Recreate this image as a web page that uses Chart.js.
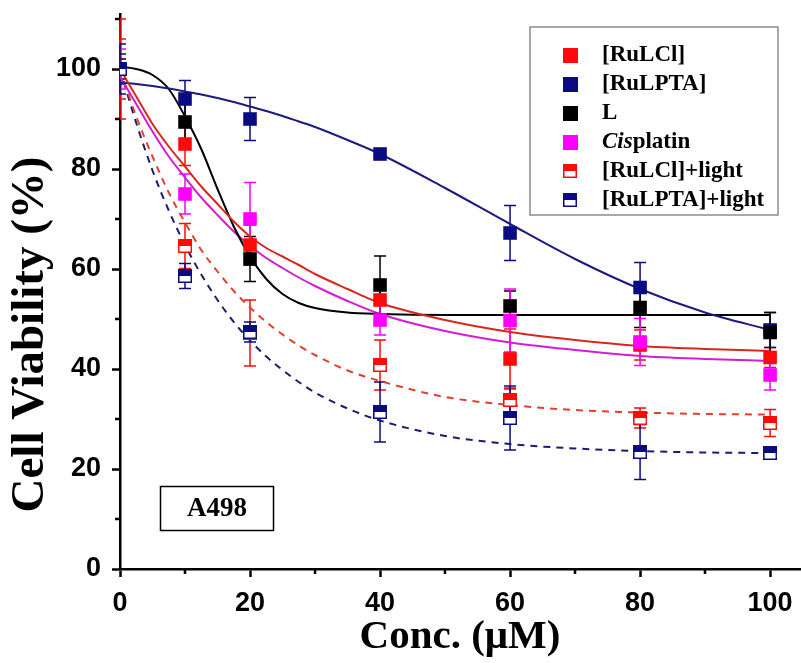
<!DOCTYPE html>
<html><head><meta charset="utf-8">
<script src="https://cdn.jsdelivr.net/npm/chart.js@4"></script>
<style>html,body{margin:0;padding:0;background:#fff}#wrap{width:801px;height:663px}</style>
</head><body><div id="wrap"><canvas id="c" width="801" height="663"></canvas></div>
<script>
// ---- data ----
const conc = [0, 10, 20, 40, 60, 80, 100];
const ruLCl        = [100, 85.0, 64.8, 53.8, 42.0, 44.8, 42.3];
const ruLClErr     = [10, 4.3, 4.0, 3.0, 6.0, 3.0, 2.0];
const ruLPTA       = [100, 94.0, 90.0, 83.0, 67.2, 56.3, 47.8];
const ruLPTAErr    = [3, 3.7, 4.3, 1.0, 5.5, 5.0, 3.5];
const ligandL      = [100, 89.4, 62.0, 56.8, 52.6, 52.3, 47.3];
const ligandLErr   = [2, 4.5, 4.5, 5.8, 3.0, 4.0, 4.0];
const cisplatin    = [100, 75.0, 70.0, 49.8, 49.7, 45.4, 38.8];
const cisplatinErr = [4, 4.0, 7.3, 3.0, 6.3, 4.7, 3.0];
const ruLClLight      = [100, 64.6, 47.2, 40.8, 33.8, 30.2, 29.2];
const ruLClLightErr   = [6, 4.5, 6.6, 5.0, 2.4, 2.0, 2.7];
const ruLPTALight     = [100, 58.6, 47.4, 31.4, 30.2, 23.4, 23.2];
const ruLPTALightErr  = [5, 2.5, 2.0, 6.0, 6.4, 5.5, 1.0];

// fitted curves
const fitX        = [0, 2.5, 5, 7.5, 10, 12.5, 15, 17.5, 20, 22.5, 25, 27.5, 30, 35, 40, 50, 60, 70, 80, 90, 100];
const fitRuLCl    = [100, 94.5, 89, 84.5, 80.5, 76.5, 73, 69.5, 66.5, 64.2, 62.5, 60.8, 59, 56, 53.2, 49.8, 47.4, 45.8, 44.6, 44, 43.6];
const fitRuLPTA   = [97.3, 97, 96.6, 96.1, 95.5, 94.9, 94.2, 93.4, 92.5, 91.6, 90.6, 89.5, 88.4, 85.8, 83, 76.2, 69, 62, 56, 51.3, 47.8];
const fitL        = [100.5, 100, 98.8, 96, 90.5, 84, 76, 68.5, 62.5, 58, 55, 53.2, 52.2, 51.3, 51, 50.8, 50.8, 50.8, 50.8, 50.8, 50.8];
const fitCis      = [98.5, 93, 87.5, 82.5, 78.3, 74.3, 70.8, 67.5, 64.6, 62.2, 60.2, 58.3, 56.6, 53.6, 51, 47.6, 45.3, 43.8, 42.6, 42, 41.6];
const fitRuLClL   = [100, 90.5, 82.5, 75.3, 69.3, 63.8, 59.5, 55.6, 52.3, 49.4, 46.9, 44.7, 42.8, 39.7, 37.6, 34.4, 32.8, 31.8, 31.3, 31, 30.9];
const fitRuLPTAL  = [100, 89.2, 79.7, 71.7, 64.8, 58.9, 53.8, 49.4, 45.7, 42.5, 39.8, 37.4, 35.3, 32.1, 29.7, 26.6, 25, 24.1, 23.6, 23.3, 23.2];

const xTicks = [0, 20, 40, 60, 80, 100];
const yTicks = [0, 20, 40, 60, 80, 100];
const xMinor = [10, 30, 50, 70, 90];
const yMinor = [10, 30, 50, 70, 90, 110];

const RED = '#ff0a0a', NAVY = '#0a0a82', BLACK = '#000000', MAG = '#ff00ff';

function pts(xs, ys){ return xs.map((x,i)=>({x:x, y:ys[i]})); }
function halfSquare(color, s){
  const c = document.createElement('canvas'); c.width = s; c.height = s;
  const g = c.getContext('2d');
  g.fillStyle = '#fff'; g.fillRect(0,0,s,s);
  g.fillStyle = color; g.fillRect(0,0,s,Math.round(s/2));
  g.strokeStyle = color; g.lineWidth = 1.5; g.strokeRect(0.75,0.75,s-1.5,s-1.5);
  return c;
}
const halfRed = halfSquare(RED, 14), halfNavy = halfSquare(NAVY, 14);

function scat(label, ys, errs, color, style, order, half){
  return {type:'scatter', label, data: pts(conc, ys), errors: errs, errColor: color,
    backgroundColor: color, borderColor: color, pointStyle: style, pointRadius: 9.6,
    pointBorderWidth: 0, showLine:false, order, legendHalf: half, legendColor: color, isMarker:true};
}
function fit(label, ys, color, dash){
  return {type:'line', label, data: pts(fitX, ys), borderColor: color, borderWidth: 2,
    borderDash: dash ? [7,6] : [], pointRadius: 0, cubicInterpolationMode:'monotone',
    fill:false, order: 20};
}

const datasets = [
  scat('[RuLCl]', ruLCl, ruLClErr, RED, 'rect', 6, false),
  scat('[RuLPTA]', ruLPTA, ruLPTAErr, NAVY, 'rect', 5, false),
  scat('L', ligandL, ligandLErr, BLACK, 'rect', 4, false),
  scat('Cisplatin', cisplatin, cisplatinErr, MAG, 'rect', 3, false),
  scat('[RuLCl]+light', ruLClLight, ruLClLightErr, RED, halfRed, 2, true),
  scat('[RuLPTA]+light', ruLPTALight, ruLPTALightErr, NAVY, halfNavy, 1, true),
  fit('[RuLCl] fit', fitRuLCl, '#d8281e', false),
  fit('[RuLPTA] fit', fitRuLPTA, '#1c1c80', false),
  fit('L fit', fitL, '#000000', false),
  fit('Cisplatin fit', fitCis, '#d41cd4', false),
  fit('[RuLCl]+light fit', fitRuLClL, '#e0402c', true),
  fit('[RuLPTA]+light fit', fitRuLPTAL, '#1c1c70', true)
];

const errorBars = {
  id:'errorBars',
  beforeDatasetsDraw(chart){
    const ctx = chart.ctx, xs = chart.scales.x, ys = chart.scales.y;
    ctx.save();
    ctx.lineWidth = 1.5;
    chart.data.datasets.forEach(ds=>{
      if(!ds.errors) return;
      ctx.strokeStyle = ds.errColor;
      ds.data.forEach((p,i)=>{
        const e = ds.errors[i]; if(!e) return;
        const px = xs.getPixelForValue(p.x);
        const y1 = ys.getPixelForValue(p.y + e), y2 = ys.getPixelForValue(p.y - e);
        const atAxis = px <= xs.left + 1;
        ctx.beginPath();
        ctx.moveTo(px, y1); ctx.lineTo(px, y2);
        if(!atAxis){ ctx.moveTo(px-6, y1); ctx.lineTo(px+6, y1); ctx.moveTo(px-6, y2); ctx.lineTo(px+6, y2); }
        else { ctx.moveTo(px, y1); ctx.lineTo(px+6, y1); ctx.moveTo(px, y2); ctx.lineTo(px+6, y2); }
        ctx.stroke();
      });
    });
    ctx.restore();
  }
};

const layoutFix = {
  id:'layoutFix',
  afterLayout(chart){
    const s = chart.scales.y;
    if(s && !s._shifted){
      const orig = s.drawTitle;
      s.drawTitle = function(){
        const c = this.ctx; c.save(); c.translate(0, 43); orig.apply(this, arguments); c.restore();
      };
      s._shifted = true;
    }
  }
};

const extras = {
  id:'extras',
  afterDraw(chart){
    const ctx = chart.ctx, xs = chart.scales.x, ys = chart.scales.y, a = chart.chartArea;
    ctx.save();
    // minor ticks
    ctx.strokeStyle = '#000'; ctx.lineWidth = 2.5; ctx.beginPath();
    xMinor.forEach(v=>{ const px = Math.round(xs.getPixelForValue(v)); ctx.moveTo(px, a.bottom); ctx.lineTo(px, a.bottom+5); });
    yMinor.forEach(v=>{ const py = Math.round(ys.getPixelForValue(v)); ctx.moveTo(a.left, py); ctx.lineTo(a.left-5, py); });
    ctx.stroke();
    // legend box
    ctx.fillStyle = '#fff'; ctx.fillRect(530, 27, 248, 188);
    ctx.strokeStyle = '#8c8c8c'; ctx.lineWidth = 1.5; ctx.strokeRect(530, 27, 248, 188);
    const items = chart.data.datasets.filter(d=>d.isMarker);
    ctx.textBaseline = 'middle'; ctx.textAlign = 'left';
    items.forEach((d,i)=>{
      const cy = 55 + i*29;
      if(d.legendHalf){
        ctx.drawImage(d.pointStyle, 563, cy-7);
      } else {
        ctx.fillStyle = d.legendColor; ctx.fillRect(563, cy-7, 15, 15);
      }
      ctx.fillStyle = '#000';
      if(d.label === 'Cisplatin'){
        ctx.font = 'italic bold 23px "Liberation Serif"';
        ctx.fillText('Cis', 602, cy);
        const w = ctx.measureText('Cis').width;
        ctx.font = 'bold 23px "Liberation Serif"';
        ctx.fillText('platin', 602 + w, cy);
      } else {
        ctx.font = 'bold 23px "Liberation Serif"';
        ctx.fillText(d.label, 602, cy);
      }
    });
    // A498 box
    ctx.strokeStyle = '#000'; ctx.lineWidth = 1.5; ctx.strokeRect(160.5, 486.5, 113, 44);
    ctx.fillStyle = '#000'; ctx.font = 'bold 27px "Liberation Serif"'; ctx.textAlign = 'center';
    ctx.fillText('A498', 217, 509);
    ctx.restore();
  }
};

const tickFont = {family:'"Liberation Sans", Arial, sans-serif', weight:'bold', size:27};
new Chart(document.getElementById('c'), {
  data: {datasets},
  options: {
    responsive:false, animation:false,
    layout:{autoPadding:false, padding:{left:0, right:1, top:14, bottom:0}},
    plugins:{legend:{display:false}, tooltip:{enabled:false}},
    scales:{
      x:{type:'linear', position:'bottom', min:0, max:104.6,
        afterBuildTicks: s=>{ s.ticks = xTicks.map(v=>({value:v})); },
        afterFit: s=>{ s.height = 94; s.paddingLeft = 0; s.paddingRight = 0; },
        ticks:{font:tickFont, color:'#000', padding:10, maxRotation:0, autoSkip:false},
        grid:{drawOnChartArea:false, drawTicks:true, tickLength:8, tickWidth:2.5, tickColor:'#000'},
        border:{display:true, color:'#000', width:2.5},
        title:{display:true, text:'Conc. (μM)', color:'#000',
          font:{family:'"Liberation Serif", "Times New Roman", serif', weight:'bold', size:41}, padding:{top:0, bottom:1}}
      },
      y:{type:'linear', position:'left', min:0, max:111,
        afterBuildTicks: s=>{ s.ticks = yTicks.map(v=>({value:v})); },
        afterFit: s=>{ s.width = 120; s.paddingTop = 0; s.paddingBottom = 0; },
        ticks:{font:tickFont, color:'#000', padding:11, autoSkip:false},
        grid:{drawOnChartArea:false, drawTicks:true, tickLength:8, tickWidth:2.5, tickColor:'#000'},
        border:{display:true, color:'#000', width:2.5},
        title:{display:true, text:'Cell Viability (%)', color:'#000',
          font:{family:'"Liberation Serif", "Times New Roman", serif', weight:'bold', size:47}, padding:{top:3, bottom:0}}
      }
    }
  },
  plugins:[errorBars, layoutFix, extras]
});
</script>
</body></html>
